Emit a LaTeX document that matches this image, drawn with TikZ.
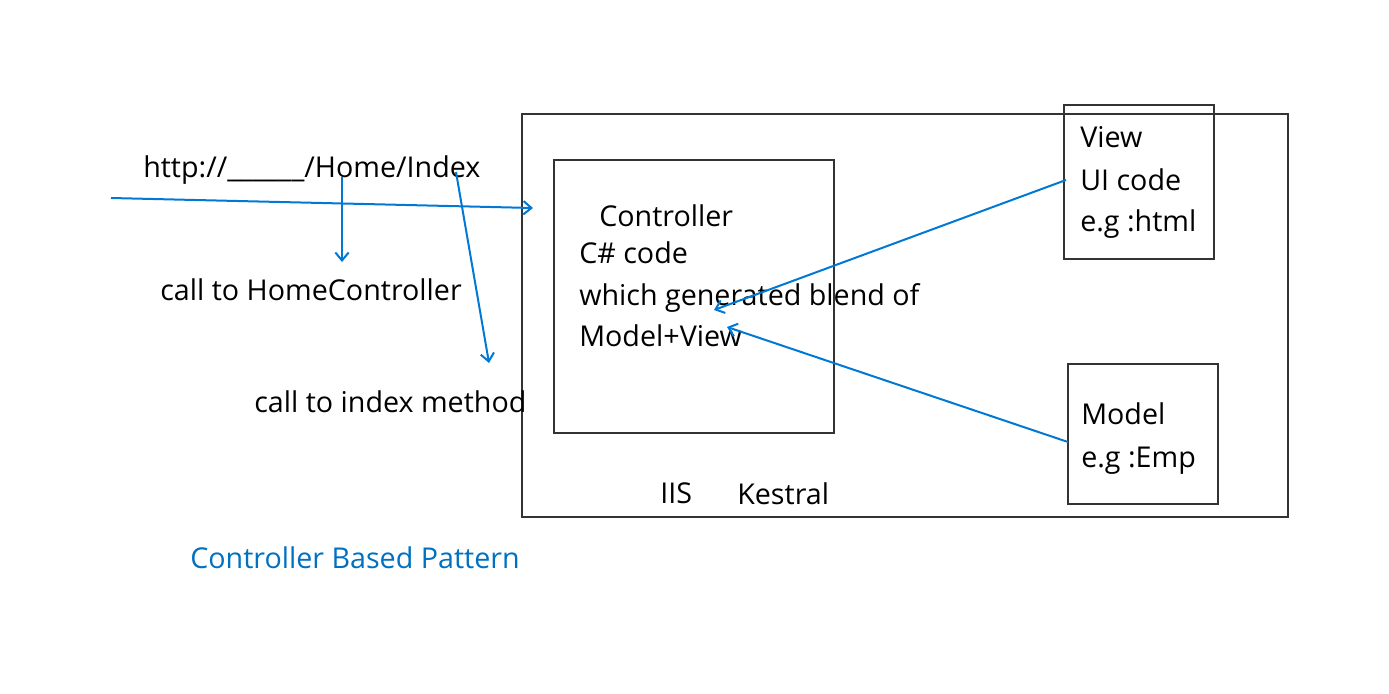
\documentclass[tikz,border=0pt]{standalone}
\usepackage{fontspec}
\setmainfont{Open Sans}
\begin{document}
\begin{tikzpicture}[x=0.75pt,y=-0.75pt,
  box/.style={draw=black!80,line width=1.6pt},
  lbl/.style={anchor=base west,inner sep=0pt,font=\fontsize{21.5}{25}\selectfont},
  conn/.style={draw={rgb,255:red,0;green,120;blue,212},line width=1.5pt,-{Straight Barb[length=6pt,width=10pt]}}]
\usetikzlibrary{arrows.meta}
\useasboundingbox (0,0) rectangle (1389,693);
\definecolor{msblue}{RGB}{0,112,192}
% boxes
\draw[box] (522,114) rectangle (1288,517);
\draw[box] (554,160) rectangle (834,433);
\draw[box] (1064,105) rectangle (1214,259);
\draw[box] (1068,364) rectangle (1218,504);
% texts
\node[lbl] (url) at (143,177) {http://\_\_\_\_\_\_/Home/Index};
\node[lbl] (chc) at (160,300) {call to HomeController};
\node[lbl] (cim) at (254,412) {call to index method};
\node[lbl] (ctl) at (599,226) {Controller};
\node[lbl] (csc) at (579,263) {C\# code};
\node[lbl] (wgb) at (579,305) {which generated blend of};
\node[lbl] (mv) at (579,346) {Model+View};
\node[lbl] (vw) at (1080,147) {View};
\node[lbl] (uic) at (1080,190) {UI code};
\node[lbl] (egh) at (1080,231) {e.g :html};
\node[lbl] (mdl) at (1081,424) {Model};
\node[lbl] (ege) at (1081,467) {e.g :Emp};
\node[lbl] (iis) at (660,503) {IIS};
\node[lbl] (kes) at (737,504) {Kestral};
\node[lbl,text=msblue] (cbp) at (190,568) {Controller Based Pattern};
% connectors
\coordinate (a1s) at (111,198); \coordinate (a1e) at (533,208);
\coordinate (a2s) at (342,177); \coordinate (a2e) at (342,262);
\coordinate (a3s) at (456,172); \coordinate (a3e) at (489,363);
\coordinate (a4s) at (1066,180); \coordinate (a4e) at (714,310);
\coordinate (a5s) at (1068,442); \coordinate (a5e) at (727,327);
\draw[conn] (a1s) -- (a1e);
\draw[conn] (a2s) -- (a2e);
\draw[conn] (a3s) -- (a3e);
\draw[conn] (a4s) -- (a4e);
\draw[conn] (a5s) -- (a5e);
\end{tikzpicture}
\end{document}
